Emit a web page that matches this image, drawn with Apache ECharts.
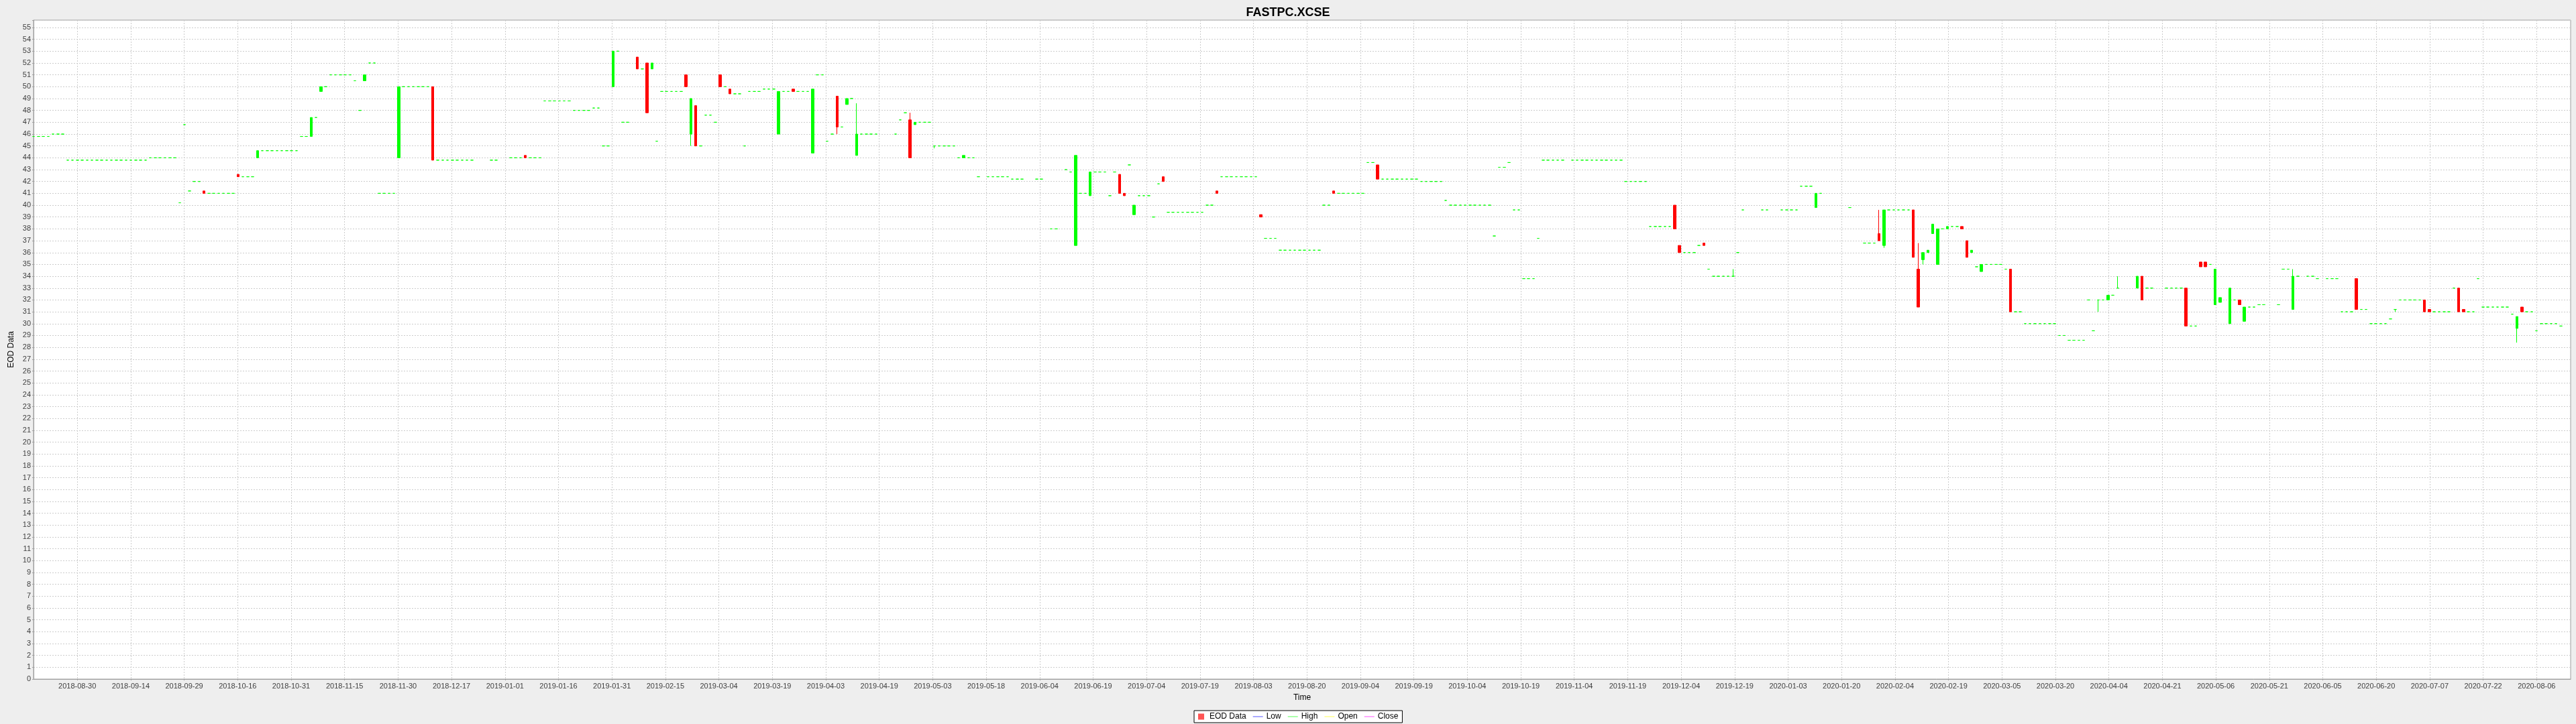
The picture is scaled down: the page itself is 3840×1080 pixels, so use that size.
<!DOCTYPE html>
<html><head><meta charset="utf-8">
<script src="https://cdn.jsdelivr.net/npm/echarts@6/dist/echarts.min.js"></script>
<style>html,body{margin:0;padding:0;background:#eeeeee;}#c{width:3840px;height:1080px;}</style>
</head><body><div id="c"></div>
<script>
const chartTitle = 'FASTPC.XCSE';
const yName = 'EOD Data';
const xName = 'Time';
const seriesName = 'EOD Data';
const legendLines = ['Low', 'High', 'Open', 'Close'];
const legendLineColors = ['#5555ff', '#55ff55', '#ffff55', '#ff55ff'];
const axisFirstDay = '2018-08-17';
const axisLastDay = '2020-08-17';
const tickLabels = ['2018-08-30','2018-09-14','2018-09-29','2018-10-16','2018-10-31','2018-11-15','2018-11-30','2018-12-17',
'2019-01-01','2019-01-16','2019-01-31','2019-02-15','2019-03-04','2019-03-19','2019-04-03','2019-04-19','2019-05-03','2019-05-18',
'2019-06-04','2019-06-19','2019-07-04','2019-07-19','2019-08-03','2019-08-20','2019-09-04','2019-09-19','2019-10-04','2019-10-19',
'2019-11-04','2019-11-19','2019-12-04','2019-12-19','2020-01-03','2020-01-20','2020-02-04','2020-02-19','2020-03-05','2020-03-20',
'2020-04-04','2020-04-21','2020-05-06','2020-05-21','2020-06-05','2020-06-20','2020-07-07','2020-07-22','2020-08-06'];
// [date, price] for an unchanged day, or [date, open, close, low, high]
const eod = [
['2018-08-17',45.8],['2018-08-20',45.8],['2018-08-21',45.8],['2018-08-22',45.8],
['2018-08-23',46.0],['2018-08-24',46.0],['2018-08-27',46.0],
['2018-08-28',43.8],['2018-08-29',43.8],['2018-08-30',43.8],['2018-08-31',43.8],['2018-09-03',43.8],['2018-09-04',43.8],['2018-09-05',43.8],
['2018-09-06',43.8],['2018-09-07',43.8],['2018-09-10',43.8],['2018-09-11',43.8],['2018-09-12',43.8],['2018-09-13',43.8],['2018-09-14',43.8],
['2018-09-17',43.8],['2018-09-18',43.8],['2018-09-19',43.8],
['2018-09-20',44.0],['2018-09-21',44.0],['2018-09-24',44.0],['2018-09-25',44.0],['2018-09-26',44.0],['2018-09-27',44.0],
['2018-09-28',40.2],['2018-10-01',46.8],['2018-10-02',41.2],['2018-10-03',42.0],['2018-10-04',42.0],
['2018-10-05',41.2,41.0,41.0,41.2],
['2018-10-08',41.0],['2018-10-09',41.0],['2018-10-10',41.0],['2018-10-11',41.0],['2018-10-12',41.0],['2018-10-15',41.0],
['2018-10-16',42.6,42.4,42.4,42.6],
['2018-10-17',42.4],['2018-10-18',42.4],['2018-10-19',42.4],
['2018-10-22',44.0,44.6,44.0,44.6],
['2018-10-23',44.6],['2018-10-24',44.6],['2018-10-25',44.6],['2018-10-26',44.6],['2018-10-29',44.6],['2018-10-30',44.6],['2018-10-31',44.6],['2018-11-01',44.6],
['2018-11-02',45.8],['2018-11-05',45.8],
['2018-11-06',45.8,47.4,45.8,47.4],['2018-11-07',47.4],
['2018-11-08',49.6,50.0,49.6,50.0],['2018-11-09',50.0],
['2018-11-12',51.0],['2018-11-13',51.0],['2018-11-14',51.0],['2018-11-15',51.0],['2018-11-16',51.0],
['2018-11-19',50.5],['2018-11-20',48.0],['2018-11-21',50.5,51.0,50.5,51.0],
['2018-11-22',52.0],['2018-11-23',52.0],
['2018-11-26',41.0],['2018-11-27',41.0],['2018-11-28',41.0],['2018-11-29',41.0],
['2018-11-30',44.0,50.0,44.0,50.0],
['2018-12-03',50.0],['2018-12-04',50.0],['2018-12-05',50.0],['2018-12-06',50.0],['2018-12-07',50.0],['2018-12-10',50.0],
['2018-12-11',50.0,43.8,43.8,50.0],
['2018-12-12',43.8],['2018-12-13',43.8],['2018-12-14',43.8],['2018-12-17',43.8],['2018-12-18',43.8],['2018-12-19',43.8],['2018-12-20',43.8],['2018-12-21',43.8],
['2018-12-27',43.8],['2018-12-28',43.8],
['2019-01-02',44.0],['2019-01-03',44.0],['2019-01-04',44.0],['2019-01-07',44.2,44.0,44.0,44.2],['2019-01-08',44.0],['2019-01-09',44.0],['2019-01-10',44.0],
['2019-01-11',48.8],['2019-01-14',48.8],['2019-01-15',48.8],['2019-01-16',48.8],['2019-01-17',48.8],['2019-01-18',48.8],
['2019-01-21',48.0],['2019-01-22',48.0],['2019-01-23',48.0],['2019-01-24',48.0],
['2019-01-25',48.2],['2019-01-28',48.2],['2019-01-29',45.0],['2019-01-30',45.0],
['2019-01-31',50.0,53.0,50.0,53.0],['2019-02-01',53.0],
['2019-02-04',47.0],['2019-02-05',47.0],
['2019-02-07',52.5,51.5,51.5,52.5],['2019-02-08',51.5],
['2019-02-11',52.0,47.8,47.8,52.0],['2019-02-12',51.5,52.0,51.5,52.0],['2019-02-13',45.4],
['2019-02-14',49.6],['2019-02-15',49.6],['2019-02-18',49.6],['2019-02-19',49.6],['2019-02-20',49.6],
['2019-02-21',51.0,50.0,50.0,51.0],['2019-02-22',46.0,49.0,45.0,49.0],['2019-02-25',48.4,45.0,45.0,48.4],['2019-02-26',45.0],
['2019-02-27',47.6],['2019-02-28',47.6],['2019-03-01',47.0],
['2019-03-04',51.0,50.0,50.0,51.0],['2019-03-05',50.0],['2019-03-06',49.8,49.4,49.4,49.8],['2019-03-07',49.4],['2019-03-08',49.4],
['2019-03-11',45.0],['2019-03-12',49.6],['2019-03-13',49.6],['2019-03-14',49.6],
['2019-03-15',49.8],['2019-03-18',49.8],['2019-03-19',49.8],
['2019-03-20',46.0,49.6,46.0,49.6],['2019-03-21',49.6],['2019-03-22',49.6],['2019-03-25',49.8,49.6,49.6,49.8],
['2019-03-26',49.6],['2019-03-27',49.6],['2019-03-28',49.6],
['2019-03-29',44.4,49.8,44.4,49.8],['2019-04-01',51.0],['2019-04-02',51.0],['2019-04-03',45.4],['2019-04-04',46.0],
['2019-04-05',49.2,46.6,46.0,49.2],['2019-04-08',46.6],['2019-04-09',48.5,49.0,48.5,49.0],['2019-04-10',49.0],
['2019-04-11',44.2,46.0,44.2,48.6],['2019-04-12',46.0],['2019-04-15',46.0],['2019-04-16',46.0],['2019-04-17',46.0],
['2019-04-23',46.0],['2019-04-24',47.2],['2019-04-25',47.8],['2019-04-26',47.2,44.0,44.0,47.8],
['2019-04-29',46.8,47.0,46.8,47.0],['2019-04-30',47.0],['2019-05-01',47.0],['2019-05-02',47.0],
['2019-05-03',45.0,45.0,44.8,45.0],['2019-05-06',45.0],['2019-05-07',45.0],['2019-05-08',45.0],['2019-05-09',45.0],
['2019-05-10',44.0],['2019-05-13',44.0,44.2,44.0,44.2],['2019-05-14',44.0],['2019-05-15',44.0],
['2019-05-16',42.4],['2019-05-20',42.4],['2019-05-21',42.4],['2019-05-22',42.4],['2019-05-23',42.4],['2019-05-24',42.4],
['2019-05-27',42.2],['2019-05-28',42.2],['2019-05-29',42.2],['2019-06-03',42.2],['2019-06-04',42.2],
['2019-06-06',38.0],['2019-06-07',38.0],['2019-06-11',43.0],['2019-06-12',42.8],
['2019-06-13',36.6,44.2,36.6,44.2],['2019-06-14',41.0],['2019-06-17',41.0],
['2019-06-18',40.8,42.8,40.8,42.8],['2019-06-19',42.8],['2019-06-20',42.8],['2019-06-21',42.8],
['2019-06-24',40.8],['2019-06-25',42.8],['2019-06-26',42.6,41.0,41.0,42.6],['2019-06-27',41.0,40.8,40.8,41.0],
['2019-06-28',43.4],['2019-07-01',39.2,40.0,39.2,40.0],['2019-07-02',40.8],['2019-07-03',40.8],['2019-07-04',40.8],
['2019-07-05',39.0],['2019-07-08',41.8],['2019-07-09',42.4,42.0,42.0,42.4],
['2019-07-10',39.4],['2019-07-11',39.4],['2019-07-12',39.4],['2019-07-15',39.4],['2019-07-16',39.4],['2019-07-17',39.4],['2019-07-18',39.4],['2019-07-19',39.4],
['2019-07-22',40.0],['2019-07-23',40.0],['2019-07-24',41.2,41.0,41.0,41.2],
['2019-07-25',42.4],['2019-07-26',42.4],['2019-07-29',42.4],['2019-07-30',42.4],['2019-07-31',42.4],['2019-08-01',42.4],['2019-08-02',42.4],['2019-08-05',42.4],
['2019-08-06',39.2,39.0,39.0,39.2],['2019-08-07',37.2],['2019-08-08',37.2],['2019-08-09',37.2],
['2019-08-12',36.2],['2019-08-13',36.2],['2019-08-14',36.2],['2019-08-15',36.2],['2019-08-16',36.2],['2019-08-19',36.2],['2019-08-20',36.2],['2019-08-21',36.2],['2019-08-22',36.2],
['2019-08-23',40.0],['2019-08-26',40.0],['2019-08-27',41.2,41.0,41.0,41.2],
['2019-08-28',41.0],['2019-08-29',41.0],['2019-08-30',41.0],['2019-09-02',41.0],['2019-09-03',41.0],['2019-09-04',41.0],
['2019-09-05',43.6],['2019-09-06',43.6],['2019-09-09',43.4,42.2,42.2,43.4],
['2019-09-10',42.2],['2019-09-11',42.2],['2019-09-12',42.2],['2019-09-13',42.2],['2019-09-16',42.2],['2019-09-17',42.2],['2019-09-18',42.2],['2019-09-19',42.2],
['2019-09-20',42.0],['2019-09-23',42.0],['2019-09-24',42.0],['2019-09-25',42.0],['2019-09-26',42.0],['2019-09-27',40.4],
['2019-09-30',40.0],['2019-10-01',40.0],['2019-10-02',40.0],['2019-10-03',40.0],['2019-10-04',40.0],['2019-10-07',40.0],['2019-10-08',40.0],['2019-10-09',40.0],['2019-10-10',40.0],
['2019-10-11',37.4],['2019-10-14',43.2],['2019-10-15',43.2],['2019-10-16',43.6],['2019-10-17',39.6],['2019-10-18',39.6],
['2019-10-21',33.8],['2019-10-22',33.8],['2019-10-23',33.8],['2019-10-24',37.2],
['2019-10-25',43.8],['2019-10-28',43.8],['2019-10-29',43.8],['2019-10-30',43.8],['2019-10-31',43.8],
['2019-11-04',43.8],['2019-11-05',43.8],['2019-11-06',43.8],['2019-11-07',43.8],['2019-11-08',43.8],['2019-11-11',43.8],['2019-11-12',43.8],
['2019-11-13',43.8],['2019-11-14',43.8],['2019-11-15',43.8],['2019-11-18',43.8],
['2019-11-19',42.0],['2019-11-20',42.0],['2019-11-21',42.0],['2019-11-22',42.0],['2019-11-25',42.0],
['2019-11-26',38.2],['2019-11-27',38.2],['2019-11-28',38.2],['2019-11-29',38.2],['2019-12-02',38.2],
['2019-12-03',40.0,38.0,38.0,40.0],['2019-12-04',36.6,36.0,36.0,36.6],['2019-12-05',36.0],['2019-12-06',36.0],['2019-12-09',36.0],
['2019-12-10',36.6],['2019-12-11',36.8,36.6,36.6,36.8],['2019-12-12',34.6],
['2019-12-13',34.0],['2019-12-16',34.0],['2019-12-17',34.0],['2019-12-18',34.0],['2019-12-19',34.0,34.0,34.0,34.6],
['2019-12-20',36.0],['2019-12-23',39.6],['2019-12-27',39.6],['2019-12-30',39.6],
['2020-01-02',39.6],['2020-01-03',39.6],['2020-01-06',39.6],['2020-01-07',39.6],
['2020-01-08',41.6],['2020-01-09',41.6],['2020-01-10',41.6],['2020-01-13',39.8,41.0,39.8,41.0],['2020-01-14',41.0],
['2020-01-22',39.8],['2020-01-27',36.8],['2020-01-28',36.8],['2020-01-29',36.8],
['2020-01-30',37.6,37.0,37.0,39.6],['2020-01-31',36.6,39.6,36.4,39.6],
['2020-02-03',39.6],['2020-02-04',39.6],['2020-02-05',39.6],['2020-02-06',39.6],['2020-02-07',39.6],
['2020-02-10',39.6,35.6,35.6,39.6],['2020-02-11',34.6,31.4,31.4,36.8],['2020-02-12',35.4,36.0,35.0,36.0],['2020-02-13',36.0,36.2,36.0,36.2],
['2020-02-14',37.6,38.4,37.6,38.4],['2020-02-17',35.0,38.0,35.0,38.0],['2020-02-18',38.0],['2020-02-19',38.0,38.2,38.0,38.2],
['2020-02-20',38.2],['2020-02-21',38.2],['2020-02-24',38.2,38.0,38.0,38.2],['2020-02-25',37.0,35.6,35.6,37.0],
['2020-02-26',36.0,36.2,36.0,36.2],['2020-02-27',34.8],['2020-02-28',34.4,35.0,34.4,35.0],
['2020-03-02',35.0],['2020-03-03',35.0],['2020-03-04',35.0],['2020-03-05',35.0],['2020-03-06',34.6],
['2020-03-09',34.6,31.0,31.0,34.6],['2020-03-10',31.0],['2020-03-11',31.0],
['2020-03-12',30.0],['2020-03-13',30.0],['2020-03-16',30.0],['2020-03-17',30.0],['2020-03-18',30.0],['2020-03-19',30.0],['2020-03-20',30.0],
['2020-03-23',29.0],['2020-03-24',29.0],['2020-03-25',28.6],['2020-03-26',28.6],['2020-03-27',28.6],['2020-03-30',28.6],
['2020-03-31',32.0],['2020-04-01',29.4],['2020-04-02',32.0,32.0,31.0,32.0],['2020-04-03',32.0],
['2020-04-06',32.0,32.4,32.0,32.4],['2020-04-07',32.4],['2020-04-08',33.0,33.0,33.0,34.0],
['2020-04-14',33.0,34.0,33.0,34.0],['2020-04-15',34.0,32.0,32.0,34.0],['2020-04-16',33.0],['2020-04-17',33.0],
['2020-04-22',33.0],['2020-04-23',33.0],['2020-04-24',33.0],['2020-04-27',33.0],
['2020-04-28',33.0,29.8,29.8,33.0],['2020-04-29',29.8],['2020-04-30',29.8],
['2020-05-01',35.2,34.8,34.8,35.2],['2020-05-04',35.2,34.8,34.8,35.2],['2020-05-05',35.0],
['2020-05-06',31.6,34.6,31.6,34.6],['2020-05-07',31.8,32.2,31.8,32.2],
['2020-05-11',30.0,33.0,30.0,33.0],['2020-05-12',32.0],['2020-05-13',32.0,31.6,31.6,32.0],['2020-05-14',30.2,31.4,30.2,31.4],
['2020-05-15',31.4],['2020-05-18',31.4],['2020-05-19',31.6],['2020-05-20',31.6],['2020-05-25',31.6],
['2020-05-26',34.6],['2020-05-27',34.6],['2020-05-28',31.2,34.0,31.2,34.6],['2020-05-29',34.0],
['2020-06-02',34.0],['2020-06-03',34.0],['2020-06-04',33.8],['2020-06-08',33.8],['2020-06-09',33.8],['2020-06-10',33.8],
['2020-06-11',31.0],['2020-06-12',31.0],['2020-06-15',31.0],['2020-06-16',33.8,31.2,31.2,33.8],['2020-06-17',31.2],['2020-06-18',31.2],
['2020-06-19',30.0],['2020-06-22',30.0],['2020-06-23',30.0],['2020-06-24',30.0],['2020-06-25',30.4],['2020-06-26',31.2,31.2,31.0,31.2],
['2020-06-29',32.0],['2020-06-30',32.0],['2020-07-01',32.0],['2020-07-02',32.0],['2020-07-03',32.0],
['2020-07-06',32.0,31.0,31.0,32.0],['2020-07-07',31.2,31.0,31.0,31.2],
['2020-07-08',31.0],['2020-07-09',31.0],['2020-07-10',31.0],['2020-07-13',31.0],
['2020-07-14',33.0],['2020-07-15',33.0,31.0,31.0,33.0],['2020-07-16',31.2,31.0,31.0,31.2],['2020-07-17',31.0],['2020-07-20',31.0],
['2020-07-21',33.8],['2020-07-22',31.4],['2020-07-23',31.4],['2020-07-24',31.4],['2020-07-27',31.4],['2020-07-28',31.4],['2020-07-29',31.4],
['2020-07-30',30.8],['2020-07-31',29.6,30.6,28.4,30.6],['2020-08-03',31.4,31.0,31.0,31.4],['2020-08-04',31.0],['2020-08-05',31.0],
['2020-08-06',29.4],['2020-08-07',30.0],['2020-08-10',30.0],['2020-08-11',30.0],['2020-08-12',30.0],['2020-08-13',29.8]
];

// ---- build ----
const UP = '#00ff00', DOWN = '#ff0000';
function weekdays(a, b) {
  const out = [];
  let t = Date.parse(a + 'T00:00:00Z');
  const end = Date.parse(b + 'T00:00:00Z');
  while (t <= end) {
    const d = new Date(t);
    const wd = d.getUTCDay();
    if (wd !== 0 && wd !== 6) out.push(d.toISOString().slice(0, 10));
    t += 86400000;
  }
  return out;
}
const days = weekdays(axisFirstDay, axisLastDay);
const byDate = {};
eod.forEach(r => { byDate[r[0]] = r.length === 2 ? [r[1], r[1], r[1], r[1]] : [r[1], r[2], r[3], r[4]]; });
const candleData = days.map(d => {
  const v = byDate[d];
  if (!v) return '-';
  if (v[0] === v[1]) return { value: v, itemStyle: { color: UP, borderColor: UP, color0: UP, borderColor0: UP } };
  return v;
});
// label axis: evenly spaced ticks, 11 slots apart
const slotsPerTick = 11, firstSlot = 9, slotCount = firstSlot + slotsPerTick * (tickLabels.length - 1) + 8;
const slots = [];
for (let i = 0; i < slotCount; i++) {
  const k = (i - firstSlot) / slotsPerTick;
  slots.push(Number.isInteger(k) && k >= 0 && k < tickLabels.length ? tickLabels[k] : '');
}
const isTick = (idx, val) => val !== '';
const FONT = 'Liberation Sans';
const gridLine = { show: true, lineStyle: { color: '#cccccc', type: [2, 2], width: 1 } };

const chart = echarts.init(document.getElementById('c'), null, { renderer: 'canvas' });
chart.setOption({
  animation: false,
  backgroundColor: '#eeeeee',
  title: { text: chartTitle, left: 'center', top: 5, textStyle: { fontFamily: FONT, fontSize: 18, fontWeight: 'bold', color: '#000' } },
  grid: { left: 50, right: 8, top: 30, bottom: 67, show: true, backgroundColor: '#ffffff', borderColor: '#a0a0a0', borderWidth: 1 },
  legend: {
    bottom: 2, left: 1780, orient: 'horizontal',
    backgroundColor: '#ffffff', borderColor: '#000000', borderWidth: 1, padding: [3, 6], itemGap: 10,
    itemWidth: 15, itemHeight: 9,
    textStyle: { fontFamily: FONT, fontSize: 12, color: '#000' },
    data: [
      { name: seriesName, icon: 'path://M0,0H10V10H0Z', itemStyle: { color: '#ff5555', borderWidth: 0 } }
    ].concat(legendLines.map((n, i) => ({ name: n, icon: 'path://M0,0H30V2H0Z', itemStyle: { color: legendLineColors[i], borderWidth: 0 } })))
  },
  xAxis: [
    {
      type: 'category', data: slots, boundaryGap: false, position: 'bottom',
      name: xName, nameLocation: 'middle', nameGap: 22,
      nameTextStyle: { fontFamily: FONT, fontSize: 12, color: '#000' },
      axisLine: { show: true, lineStyle: { color: '#a0a0a0' } },
      axisTick: { show: true, interval: isTick, length: 2, lineStyle: { color: '#a0a0a0' } },
      axisLabel: { interval: isTick, margin: 5, fontFamily: FONT, fontSize: 11, color: '#404040' },
      splitLine: Object.assign({ interval: isTick }, gridLine)
    },
    {
      type: 'category', data: days, boundaryGap: false, show: false,
      axisLine: { show: false }, axisTick: { show: false }, axisLabel: { show: false }, splitLine: { show: false }
    }
  ],
  yAxis: {
    type: 'value', min: 0, max: 55.62, interval: 1,
    name: yName, nameLocation: 'middle', nameGap: 22, nameRotate: 90,
    nameTextStyle: { fontFamily: FONT, fontSize: 12, color: '#000' },
    axisLine: { show: true, lineStyle: { color: '#a0a0a0' } },
    axisTick: { show: true, length: 2, lineStyle: { color: '#a0a0a0' } },
    axisLabel: { margin: 4, fontFamily: FONT, fontSize: 11, color: '#404040',
      formatter: v => (Math.abs(v - Math.round(v)) < 1e-6 ? String(Math.round(v)) : '') },
    splitLine: gridLine
  },
  series: [
    {
      type: 'candlestick', name: seriesName, xAxisIndex: 1, yAxisIndex: 0,
      data: candleData, barWidth: 4,
      itemStyle: { color: UP, color0: DOWN, borderColor: UP, borderColor0: DOWN, borderWidth: 1 }
    }
  ].concat(legendLines.map((n, i) => ({
    type: 'line', name: n, data: [], xAxisIndex: 1, symbol: 'none',
    itemStyle: { color: legendLineColors[i] }, lineStyle: { color: legendLineColors[i], width: 1.5 }
  })))
});
</script>
</body></html>
